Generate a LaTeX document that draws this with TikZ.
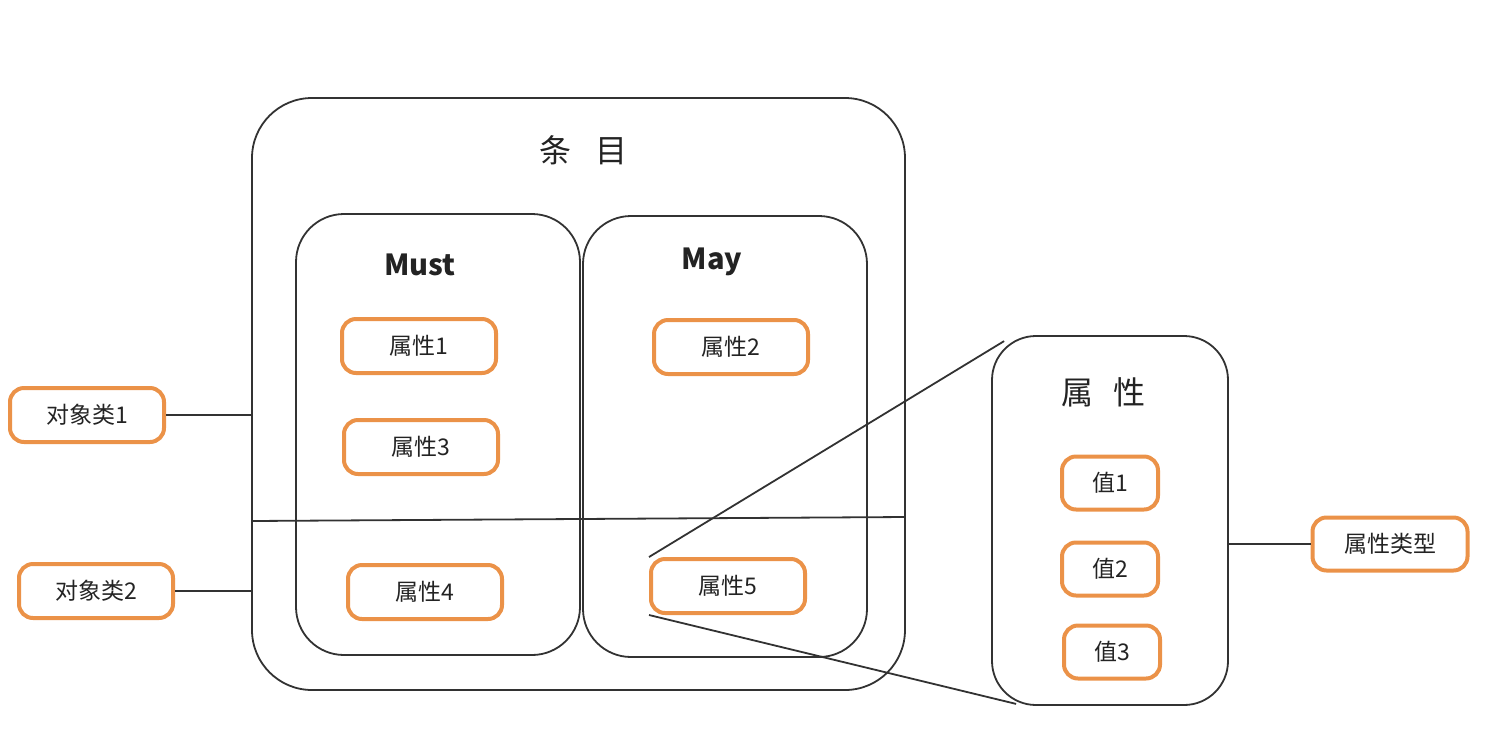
\documentclass[tikz,border=0pt]{standalone}
\usepackage{fontspec}
\setmainfont{Noto Sans CJK SC}
\usetikzlibrary{calc,positioning}
\definecolor{SchemaOrange}{RGB}{235,146,72}
\definecolor{SchemaLine}{RGB}{50,50,50}
\definecolor{SchemaText}{RGB}{35,35,35}

\begin{document}
\begin{tikzpicture}[x=1pt, y=-1pt,
    panel/.style={draw=SchemaLine, line width=1.8pt, rounded corners=#1},
    attr/.style={draw=SchemaOrange, line width=4pt, rounded corners=14pt,
        minimum width=154pt, minimum height=54pt, inner sep=0pt,
        text=SchemaText, font=\fontsize{23}{23}\selectfont},
    val/.style={attr, minimum width=96pt, minimum height=53pt},
    link/.style={draw=SchemaLine, line width=1.8pt}]
    \useasboundingbox (0,0) rectangle (1510,732);

    % containers
    \node[panel=60pt, minimum width=653pt, minimum height=592pt] (entry) at (578.5,394) {};
    \node[panel=48pt, minimum width=284pt, minimum height=441pt] (must) at (438,434.5) {};
    \node[panel=48pt, minimum width=284pt, minimum height=441pt] (may) at (725,436.5) {};
    \node[panel=44pt, minimum width=236pt, minimum height=369pt] (attrpanel) at (1110,520.5) {};

    \node[text=SchemaText, font=\fontsize{32}{32}\selectfont] (entrytitle) at (583,150) {条\hspace{24pt}目};
    \node[text=SchemaText, font=\fontsize{29}{29}\selectfont\bfseries] (musttitle) at (420,265) {Must};
    \node[text=SchemaText, font=\fontsize{29}{29}\selectfont\bfseries] (maytitle) at (712,262) {May};
    \node[text=SchemaText, font=\fontsize{32}{32}\selectfont] (attrtitle) at (1103,392) {属\hspace{20pt}性};

    % attributes
    \node[attr] (a1) at (419,346) {属性1};
    \node[attr] (a3) at (421,447) {属性3};
    \node[attr] (a4) at (425,592) {属性4};
    \node[attr] (a2) at (731,347) {属性2};
    \node[attr] (a5) at (728,586) {属性5};

    % values
    \node[val] (v1) at (1110,483) {值1};
    \node[val] (v2) at (1110,569) {值2};
    \node[val] (v3) at (1112,652) {值3};

    % outside
    \node[attr] (obj1) at (87,415) {对象类1};
    \node[attr] (obj2) at (96,591) {对象类2};
    \node[attr, minimum width=155pt, minimum height=53pt] (type) at (1390,544) {属性类型};

    \draw[link] (obj1.east) -- (obj1.east -| entry.west);
    \draw[link] (obj2.east) -- (obj2.east -| entry.west);
    \draw[link] ($(entry.west)+(0,127)$) -- ($(entry.east)+(0,123)$);
    \draw[link] (type.west -| attrpanel.east) -- (type.west);

    % zoom onto attribute 5
    \draw[link] (a5.north west) -- ($(attrpanel.north west)+(13,6)$);
    \draw[link] (a5.south west) -- ($(attrpanel.south west)+(25,-2)$);
\end{tikzpicture}
\end{document}
